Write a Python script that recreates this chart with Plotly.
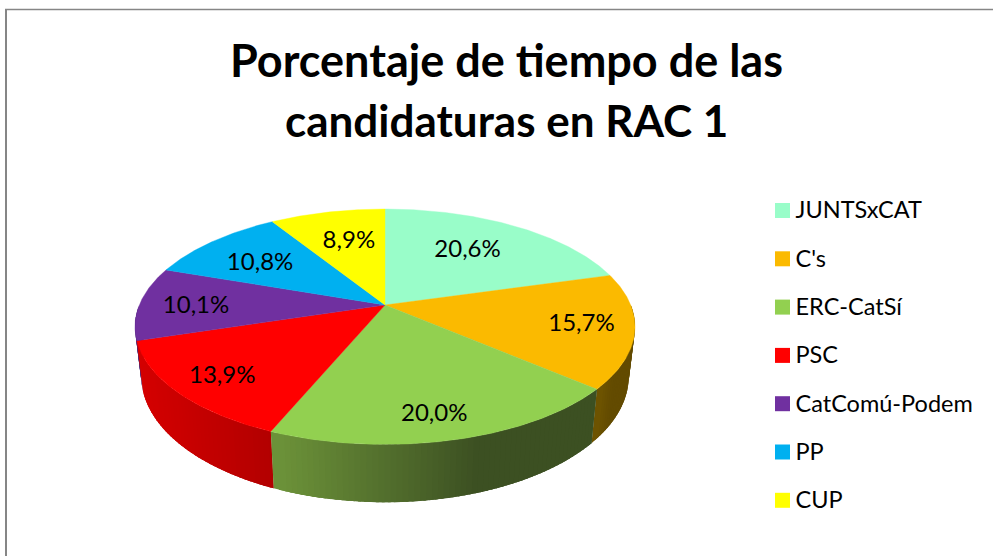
import math
import plotly.graph_objects as go

# ---- data ----
categories = ["JUNTSxCAT", "C's", "ERC-CatSí", "PSC", "CatComú-Podem", "PP", "CUP"]
percent = [20.6, 15.7, 20.0, 13.9, 10.1, 10.8, 8.9]

# ---- styles ----
colors = ["#99FDC9", "#FBBA00", "#92D050", "#FF0000", "#7030A0", "#00B0F0", "#FFFF00"]
wall_left = ["#5A7F6B", "#6E5400", "#6C9239", "#D40000", "#4A2070", "#00709A", "#A0A000"]
wall_right = ["#5A7F6B", "#634B00", "#3C5022", "#B00000", "#4A2070", "#00709A", "#A0A000"]
wall_ramp = [1, 1, 0.61, 1, 1, 1, 1]
label_radius = [0.66, 0.792, 0.825, 0.812, 0.769, 0.681, 0.66]
label_shift_deg = [-3.0, -1.2, 1.4, -0.6, -0.9, -1.9, 1.6]
LABEL_DY = 2.0
FONT = "Lato, Carlito, Calibri, sans-serif"

# ---- perspective projection of the pie disc onto the chart plane ----
CX, CY, AX, BY, K = 385.0, 305.0, 245.7, 113.7, 0.1847
WALL_SX, WALL_SY, WALL_Y = 0.975, 1.07, 353.0
LEGEND_SWATCH_X, LEGEND_TEXT_X, LEGEND_Y0, LEGEND_STEP = 782.5, 795.5, 210.5, 48.3
LEGEND_TEXT_DY = 2.0


def top(theta, r=1.0):
    u, v = r * math.sin(theta), r * math.cos(theta)
    w = 1 + K * v
    return CX + AX * u / w, CY - BY * v / w


def bottom(theta):
    u, v = math.sin(theta), math.cos(theta)
    w = 1 + K * v
    return CX + WALL_SX * AX * u / w, WALL_Y - WALL_SY * BY * v / w


def mix(c1, c2, t):
    a = [int(c1[i:i + 2], 16) for i in (1, 3, 5)]
    b = [int(c2[i:i + 2], 16) for i in (1, 3, 5)]
    return "#" + "".join(f"{round(p + (q - p) * t):02X}" for p, q in zip(a, b))


total = sum(percent)
edges = [0.0]
for p in percent:
    edges.append(edges[-1] + p / total * 2 * math.pi)

fig = go.Figure()

# side wall: overlapping strips, far slices first, so shading varies along the rim
order = sorted(range(len(percent)),
               key=lambda i: -abs((edges[i] + edges[i + 1]) / 2 - math.pi))
for i in order:
    a0, a1 = edges[i], edges[i + 1]
    lo, hi = max(a0, math.pi / 2), min(a1, 3 * math.pi / 2)
    if hi <= lo:
        continue
    n = max(1, int((hi - lo) / 0.02))
    x_left, x_right = top(a1)[0], top(a0)[0]
    x_dark = x_left + (x_right - x_left) * wall_ramp[i]
    for j in range(n):
        t0 = lo + (hi - lo) * j / n
        t1 = lo + (hi - lo) * (j + 1) / n
        f = (top((t0 + t1) / 2)[0] - x_left) / (x_dark - x_left)
        col = mix(wall_left[i], wall_right[i], min(1, max(0, f)))
        t_back = max(lo, t0 - 0.03)
        p = [top(t_back), top(t1), bottom(t1), bottom(t_back), top(t_back)]
        fig.add_trace(go.Scatter(
            x=[q[0] for q in p], y=[q[1] for q in p], mode="lines", fill="toself",
            fillcolor=col, line=dict(color=col, width=0),
            hoverinfo="skip", showlegend=False))

# top face
for i, name in enumerate(categories):
    a0, a1 = edges[i], edges[i + 1]
    n = max(2, int((a1 - a0) / 0.01))
    arc = [top(a0 + (a1 - a0) * j / n) for j in range(n + 1)]
    pts = [(CX, CY)] + arc + [(CX, CY)]
    fig.add_trace(go.Scatter(
        x=[q[0] for q in pts], y=[q[1] for q in pts], mode="lines", fill="toself",
        fillcolor=colors[i], line=dict(color=colors[i], width=0.4),
        name=name, hoverinfo="name", showlegend=False))

# value labels
lx, ly, lt = [], [], []
for i, p in enumerate(percent):
    mid = (edges[i] + edges[i + 1]) / 2 + math.radians(label_shift_deg[i])
    x, y = top(mid, label_radius[i])
    lx.append(x)
    ly.append(y + LABEL_DY)
    lt.append(f"{p:.1f}%".replace(".", ","))
fig.add_trace(go.Scatter(x=lx, y=ly, text=lt, mode="text", hoverinfo="skip", showlegend=False,
                         textposition="middle center",
                         textfont=dict(family=FONT, size=24, color="#000000")))

# legend, placed to match the reference's swatch-to-text spacing
legend_y = [LEGEND_Y0 + LEGEND_STEP * i for i in range(len(categories))]
fig.add_trace(go.Scatter(
    x=[LEGEND_SWATCH_X] * len(categories), y=legend_y, mode="markers", hoverinfo="skip",
    showlegend=False, marker=dict(symbol="square", size=15, color=colors, line=dict(width=0))))
fig.add_trace(go.Scatter(
    x=[LEGEND_TEXT_X] * len(categories), y=[v + LEGEND_TEXT_DY for v in legend_y],
    mode="text", text=categories, hoverinfo="skip", showlegend=False,
    textposition="middle right", textfont=dict(family=FONT, size=23.5, color="#000000")))

fig.update_layout(
    width=993, height=556, margin=dict(l=0, r=0, t=0, b=0),
    paper_bgcolor="white", plot_bgcolor="white",
    xaxis=dict(range=[0, 993], visible=False, fixedrange=True),
    yaxis=dict(range=[556, 0], visible=False, fixedrange=True),
    showlegend=False,
    shapes=[
        dict(type="line", xref="x", yref="y", x0=6, x1=6, y0=9.5, y1=556,
             line=dict(color="#868686", width=2)),
        dict(type="line", xref="x", yref="y", x0=5, x1=993, y0=9.5, y1=9.5,
             line=dict(color="#868686", width=1.5)),
    ],
    annotations=[
        dict(text="<b>Porcentaje de tiempo de las</b>", xref="x", yref="y", x=506.5, y=60,
             showarrow=False, font=dict(family=FONT, size=45, color="#000000")),
        dict(text="<b>candidaturas en RAC 1</b>", xref="x", yref="y", x=506, y=120,
             showarrow=False, font=dict(family=FONT, size=44, color="#000000")),
    ],
)

fig.write_html("out.html", config={"displayModeBar": False},
               post_script="document.body.style.margin='0';")
